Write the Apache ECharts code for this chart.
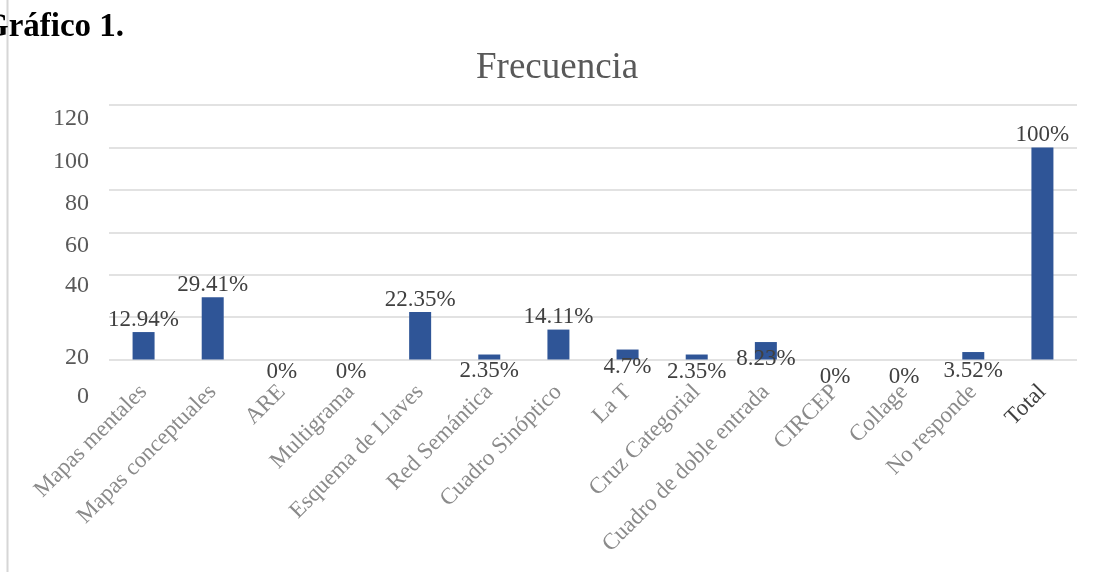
<!DOCTYPE html>
<html>
<head>
<meta charset="utf-8">
<script src="https://cdn.jsdelivr.net/npm/echarts@6/dist/echarts.min.js"></script>
<style>
  html, body { margin: 0; padding: 0; background: #fff; }
  #chart { width: 1094px; height: 572px; }
</style>
</head>
<body>
<div id="chart"></div>
<script>
// datos del gráfico
var categorias = ['Mapas mentales', 'Mapas conceptuales', 'ARE', 'Multigrama', 'Esquema de Llaves',
  'Red Semántica', 'Cuadro Sinóptico', 'La T', 'Cruz Categorial', 'Cuadro de doble entrada',
  'CIRCEP', 'Collage', 'No responde', 'Total'];
var frecuencia = [12.94, 29.41, 0, 0, 22.35, 2.35, 14.11, 4.7, 2.35, 8.23, 0, 0, 3.52, 100];
var etiquetas = ['12.94%', '29.41%', '0%', '0%', '22.35%', '2.35%', '14.11%', '4.7%', '2.35%', '8.23%', '0%', '0%', '3.52%', '100%'];
var yTicks = [0, 20, 40, 60, 80, 100, 120];

// estilo de etiquetas (como quedaron movidas en el original)
var posEtiqueta = ['top', 'top', 'bottom', 'bottom', 'top', 'bottom', 'top', 'bottom', 'bottom', 'bottom', 'bottom', 'bottom', 'bottom', 'top'];
var dyEtiqueta = [0, 0, 0, 0, 0, -1, 0, -5, 0, -13, 5, 5, -1, 0];
var yShift = [37.5, 41, 11, 13.5, 14, 14, 14];

var serif = 'Liberation Serif';
var myChart = echarts.init(document.getElementById('chart'));

var datos = [];
for (var i = 0; i < frecuencia.length; i++) {
  datos.push({
    value: frecuencia[i],
    label: { position: posEtiqueta[i], offset: [0, dyEtiqueta[i]] }
  });
}

var catLabels = [];
for (var i = 0; i < categorias.length; i++) {
  if (categorias[i] == 'Total') catLabels.push({ value: categorias[i], textStyle: { color: '#404040' } });
  else catLabels.push(categorias[i]);
}

var rich = {};
for (var i = 0; i < yTicks.length; i++) {
  rich['t' + yTicks[i]] = {
    fontFamily: serif, fontSize: 24, color: '#595959',
    padding: [yShift[i] * 2, 0, 0, 0]
  };
}

var option = {
  animation: false,
  title: [
    { text: 'Gráfico 1.', left: -22, top: 6,
      textStyle: { fontFamily: serif, fontSize: 33, fontWeight: 'bold', color: '#000' } },
    { text: 'Frecuencia', left: 471, top: 45,
      textStyle: { fontFamily: serif, fontSize: 37, fontWeight: 'normal', color: '#595959' } }
  ],
  graphic: [{
    type: 'line', shape: { x1: 7.5, y1: 0, x2: 7.5, y2: 572 },
    style: { stroke: '#d6d6d6', lineWidth: 2 }
  }],
  grid: { left: 109, width: 968, top: 105, bottom: 212.5 },
  xAxis: {
    type: 'category', data: catLabels,
    axisLine: { show: false }, axisTick: { show: false },
    axisLabel: { rotate: 45, margin: 29, interval: 0, fontFamily: serif, fontSize: 23, color: '#8a8a8a' }
  },
  yAxis: {
    type: 'value', min: 0, max: 120, interval: 20,
    axisLine: { show: false }, axisTick: { show: false },
    splitLine: { lineStyle: { color: '#d9d9d9', width: 1.5 } },
    axisLabel: {
      margin: 20, rich: rich,
      formatter: function (v) { return '{t' + v + '|' + v + '}'; }
    }
  },
  series: [{
    type: 'bar',
    barWidth: 22,
    itemStyle: { color: '#2F5597' },
    label: {
      show: true, distance: 1,
      fontFamily: serif, fontSize: 23, color: '#404040',
      formatter: function (p) { return etiquetas[p.dataIndex]; }
    },
    data: datos
  }]
};
myChart.setOption(option);
</script>
</body>
</html>
